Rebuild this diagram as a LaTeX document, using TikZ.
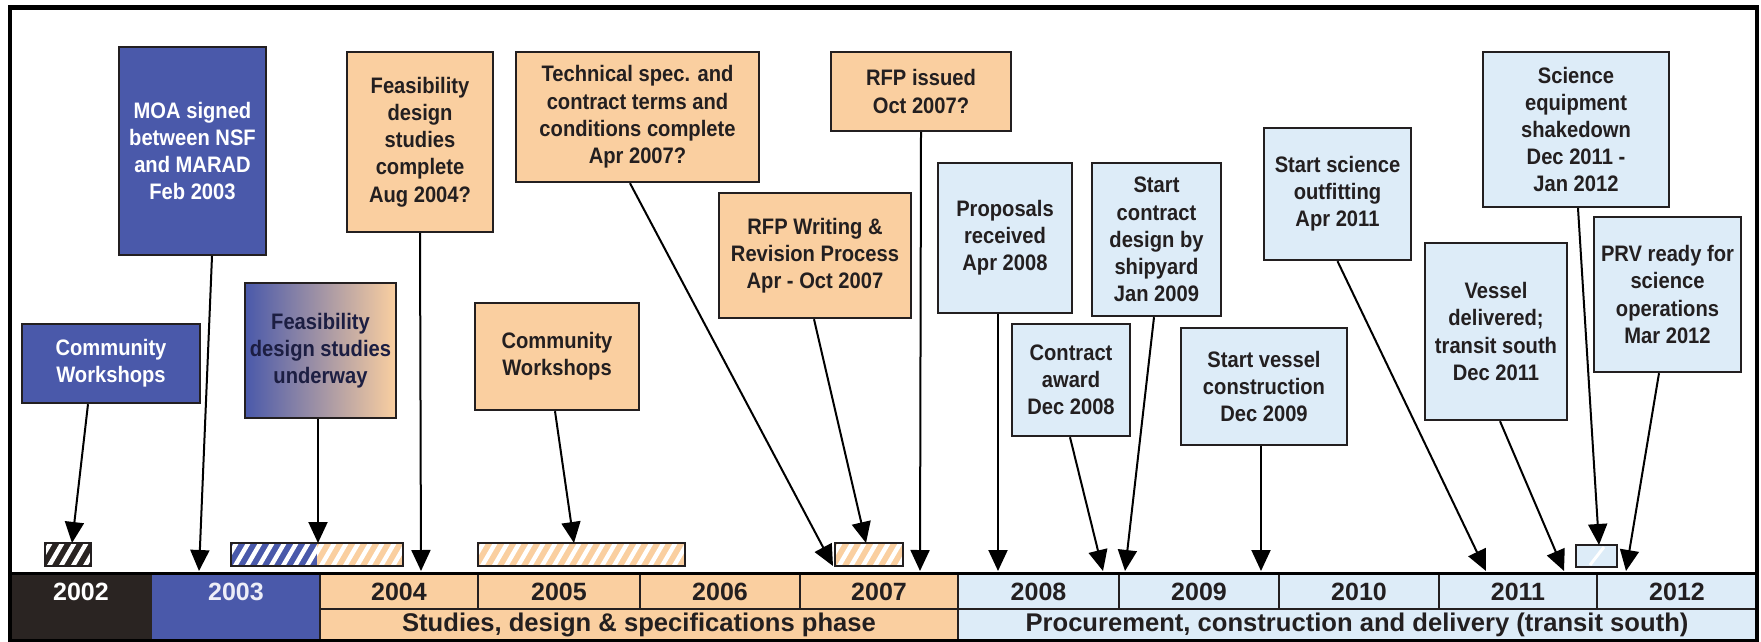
\documentclass[tikz,border=0pt]{standalone}
\usepackage{fontspec}
\newfontfamily\boxfont{Liberation Sans}[FakeStretch=0.9]
\newfontfamily\axisfont{Liberation Sans}
\usetikzlibrary{arrows.meta,calc,shadings}
\tikzset{>={Triangle[width=9.5pt,length=10.5pt]}}
\definecolor{navyblue}{RGB}{74,89,170}
\definecolor{peach}{RGB}{250,207,160}
\definecolor{iceblue}{RGB}{221,236,248}
\definecolor{darkcell}{RGB}{42,36,34}
\definecolor{lavender}{RGB}{196,172,214}
\definecolor{inkgray}{RGB}{35,31,32}
\definecolor{deepnavy}{RGB}{28,30,66}

\begin{document}
\begin{tikzpicture}[x=0.5pt,y=-0.5pt,
  evt/.style={draw=inkgray, line width=1.2pt, inner sep=0pt, align=center,
    text=inkgray, font=\boxfont\bfseries\fontsize{11.2}{13.6}\selectfont},
  bluebox/.style={evt, fill=navyblue, text=white},
  peachbox/.style={evt, fill=peach},
  icebox/.style={evt, fill=iceblue},
  yearlbl/.style={font=\axisfont\bfseries\fontsize{12.5}{14}\selectfont, text=inkgray},
  phaselbl/.style={font=\axisfont\bfseries\fontsize{12.8}{14}\selectfont, text=inkgray},
  link/.style={->, line width=1pt, draw=black}]

  \useasboundingbox (0,0) rectangle (1761,642);

  \newcommand\stripebar[5]{%
    \begin{scope}
      \clip (#1,#2) rectangle (#3,#4);
      \fill[#5] (#1,#2) rectangle (#3,#4);
      \foreach \k in {0,...,20}
        \draw[white, line width=2.2pt] ({#1-20+12*\k},#4) -- ++(14,-24);
    \end{scope}
  }

  %% time axis
  \fill[darkcell] (10,573) rectangle (152,641);
  \fill[navyblue] (152,573) rectangle (320,641);
  \fill[peach] (320,573) rectangle (958,641);
  \fill[iceblue] (958,573) rectangle (1757,641);
  \draw[inkgray, line width=1.2pt] (320,609) -- (1757,609);
  \draw[inkgray, line width=1.4pt] (320,573) -- (320,641);
  \draw[inkgray, line width=1.4pt] (958,573) -- (958,641);
  \node[yearlbl, text=white] (yr2002) at (81,592) {2002};
  \node[yearlbl, text=white!90!navyblue] (yr2003) at (236,592) {2003};
  \foreach \yr/\xa/\xb in {2004/320/478,2005/478/640,2006/640/800,2007/800/958,
      2008/958/1119,2009/1119/1279,2010/1279/1439,2011/1439/1597,2012/1597/1757}{
    \draw[inkgray, line width=1pt] (\xb,573) -- (\xb,609);
    \node[yearlbl] (yr\yr) at ({(\xa+\xb)/2},592) {\yr};
  }
  \node[phaselbl] (studies) at (639,625) {Studies, design \& specifications phase};
  \node[phaselbl] (procure) at (1357,625) {Procurement, construction and delivery (transit south)};
  \draw[black, line width=1.8pt] (10,573.5) -- (1757,573.5);
  \draw[black, line width=2.2pt] (10,7.5) rectangle (1757,641);

  %% activity bars
  \stripebar{45}{543}{91}{566}{darkcell}
  \draw[inkgray, line width=0.9pt] (45,543) rectangle (91,566);
  \stripebar{231}{543}{317}{566}{navyblue}
  \stripebar{317}{543}{403}{566}{peach}
  \draw[inkgray, line width=0.9pt] (231,543) rectangle (403,566);
  \stripebar{478}{543}{685}{566}{peach}
  \draw[inkgray, line width=0.9pt] (478,543) rectangle (685,566);
  \stripebar{835}{543}{903}{566}{peach}
  \draw[inkgray, line width=0.9pt] (835,543) rectangle (903,566);
  \fill[iceblue] (1576,545) rectangle (1617,567);
  \draw[white, line width=1.5pt] (1590,565) -- (1604,547);
  \draw[inkgray, line width=1.1pt] (1576,545) rectangle (1617,567);

  %% events
  \node[bluebox, minimum width=89pt, minimum height=39.5pt] (cw02) at (111,363.5)
    {Community\\Workshops};
  \node[bluebox, minimum width=73.5pt, minimum height=104pt] (moa) at (192.5,151)
    {MOA signed\\between NSF\\and MARAD\\Feb 2003};
  \node[evt, left color=navyblue, middle color=lavender, right color=peach,
    text=deepnavy, minimum width=75.5pt, minimum height=67.5pt] (fdsu) at (320.5,350.5)
    {Feasibility\\design studies\\underway};
  \node[peachbox, minimum width=73pt, minimum height=90pt] (fdsc) at (420,142)
    {Feasibility\\design\\studies\\complete\\Aug 2004?};
  \node[peachbox, minimum width=82pt, minimum height=53.5pt] (cw05) at (557,356.5)
    {Community\\Workshops};
  \node[peachbox, minimum width=121.5pt, minimum height=65pt] (tech) at (637.5,117)
    {Technical spec. and\\contract terms and\\conditions complete\\Apr 2007?};
  \node[peachbox, minimum width=90pt, minimum height=39.5pt] (rfpi) at (921,91.5)
    {RFP issued\\Oct 2007?};
  \node[peachbox, minimum width=96pt, minimum height=62.5pt] (rfpw) at (815,255.5)
    {RFP Writing \&\\Revision Process\\Apr - Oct 2007};
  \node[icebox, minimum width=67pt, minimum height=75pt] (prop) at (1005,238)
    {Proposals\\received\\Apr 2008};
  \node[icebox, minimum width=59pt, minimum height=56pt] (award) at (1071,380)
    {Contract\\award\\Dec 2008};
  \node[icebox, minimum width=64.5pt, minimum height=76.5pt] (scd) at (1156.5,239.5)
    {Start\\contract\\design by\\shipyard\\Jan 2009};
  \node[icebox, minimum width=83pt, minimum height=58.5pt] (svc) at (1264,386.5)
    {Start vessel\\construction\\Dec 2009};
  \node[icebox, minimum width=73.5pt, minimum height=66pt] (sso) at (1337.5,194)
    {Start science\\outfitting\\Apr 2011};
  \node[icebox, minimum width=93pt, minimum height=77.5pt] (ses) at (1576,129.5)
    {Science\\equipment\\shakedown\\Dec 2011 -\\Jan 2012};
  \node[icebox, minimum width=71pt, minimum height=88.5pt] (vd) at (1496,331.5)
    {Vessel\\delivered;\\transit south\\Dec 2011};
  \node[icebox, minimum width=73.5pt, minimum height=77.5pt] (prv) at (1667.5,294.5)
    {PRV ready for\\science\\operations\\Mar 2012};

  %% arrow tips
  \coordinate (tcw02) at (72,543);
  \coordinate (tmoa) at (199,571);
  \coordinate (tfdsu) at (318,543);
  \coordinate (tfdsc) at (421,571);
  \coordinate (tcw05) at (574,543);
  \coordinate (ttech) at (833,566);
  \coordinate (trfpw) at (866,543);
  \coordinate (trfpi) at (920,571);
  \coordinate (tprop) at (998,571);
  \coordinate (taward) at (1103,571);
  \coordinate (tscd) at (1125,571);
  \coordinate (tsvc) at (1261,571);
  \coordinate (tsso) at (1486,571);
  \coordinate (tvd) at (1564,571);
  \coordinate (tses) at (1599,545);
  \coordinate (tprv) at (1626,571);

  \draw[link] ($(cw02.south)+(-23,0)$) -- (tcw02);
  \draw[link] ($(moa.south)+(19.5,0)$) -- (tmoa);
  \draw[link] ($(fdsu.south)+(-2.5,0)$) -- (tfdsu);
  \draw[link] (fdsc.south) -- (tfdsc);
  \draw[link] ($(cw05.south)+(-2,0)$) -- (tcw05);
  \draw[link] ($(tech.south)+(-7.5,0)$) -- (ttech);
  \draw[link] ($(rfpw.south)+(-1,0)$) -- (trfpw);
  \draw[link] (rfpi.south) -- (trfpi);
  \draw[link] ($(prop.south)+(-7,0)$) -- (tprop);
  \draw[link] ($(award.south)+(-1,0)$) -- (taward);
  \draw[link] ($(scd.south)+(-2.5,0)$) -- (tscd);
  \draw[link] ($(svc.south)+(-3,0)$) -- (tsvc);
  \draw[link] (sso.south) -- (tsso);
  \draw[link] ($(vd.south)+(4,0)$) -- (tvd);
  \draw[link] ($(ses.south)+(2,0)$) -- (tses);
  \draw[link] ($(prv.south)+(-8.5,0)$) -- (tprv);

\end{tikzpicture}
\end{document}
